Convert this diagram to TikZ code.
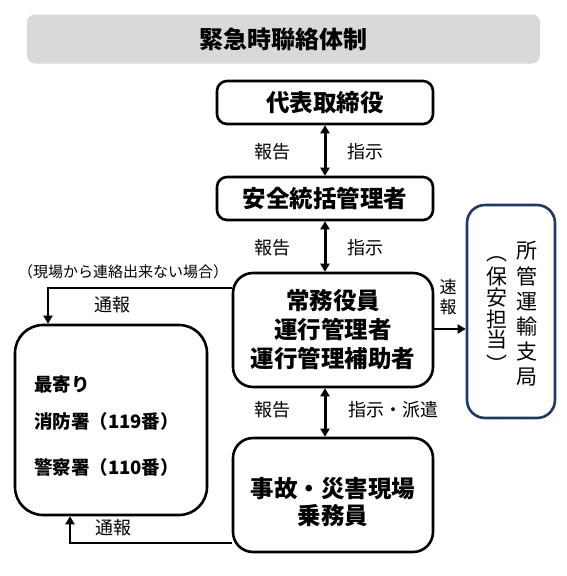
\documentclass[tikz,border=0pt]{standalone}
\usepackage{fontspec}
\setmainfont{Noto Sans CJK JP}
\usetikzlibrary{arrows.meta}
\definecolor{titlegray}{HTML}{D9D9D9}
\definecolor{navy}{HTML}{1F3864}
\begin{document}
\begin{tikzpicture}[x=1pt,y=-1pt,
  box/.style={draw=black, line width=2.6pt, fill=white, rounded corners=10pt, inner sep=0pt, align=center, font=\fontsize{23.5}{29}\selectfont\bfseries},
  lbl/.style={font=\fontsize{18}{20}\selectfont, inner sep=0pt},
  neartext/.style={anchor=west, inner sep=0pt, font=\fontsize{18.5}{20}\selectfont\bfseries},
  vch/.style={font=\fontsize{21}{21}\selectfont, inner sep=0pt},
  conn/.style={line width=2.8pt, -{Triangle[length=8pt,width=9pt]}},
  dconn/.style={line width=3pt, {Triangle[length=8pt,width=9pt]}-{Triangle[length=8pt,width=9pt]}},
]
\useasboundingbox (0,0) rectangle (567,576);

% title
\node[fill=titlegray, rounded corners=8pt, minimum width=513pt, minimum height=49pt, inner sep=0pt,
      font=\fontsize{24}{26}\selectfont\bfseries] (title) at (283.5,39) {緊急時聯絡体制};

% boxes
\node[box, minimum width=216pt, minimum height=43pt] (rep) at (325,102.5) {代表取締役};
\node[box, minimum width=216pt, minimum height=43pt] (safe) at (325,198.5) {安全統括管理者};
\node[box, rounded corners=20pt, minimum width=200pt, minimum height=114pt] (exec) at (333,330) {常務役員\\運行管理者\\運行管理補助者};
\node[box, rounded corners=20pt, minimum width=200pt, minimum height=114pt] (site) at (333,495) {};
\node[inner sep=0pt, align=center, font=\fontsize{23.5}{27}\selectfont\bfseries] (sitetext) at (333,502) {事故・災害現場\\乗務員};
\node[box, rounded corners=28pt, minimum width=192pt, minimum height=190pt] (near) at (111,420) {};
\node[neartext] (n1) at (34,384) {最寄り};
\node[neartext] (n2) at (34,421) {消防署（119番）};
\node[neartext] (n3) at (34,467) {警察署（110番）};
\node[draw=navy, line width=2.6pt, rounded corners=18pt, minimum width=88pt, minimum height=213pt, inner sep=0pt] (bureau) at (511,311.5) {};
\foreach \c [count=\i from 0] in {所,管,運,輸,支,局}
  \node[vch] (r\i) at (527,{251+25.2*\i}) {\c};
\foreach \c/\yy [count=\i] in {︵/259,保/277,安/298,担/319,当/340,︶/364}
  \node[vch] (p\i) at (497,\yy) {\c};

% connectors
\coordinate (ax) at (325,0);
\draw[dconn] (rep.south -| ax) -- (safe.north -| ax);
\draw[dconn] (safe.south -| ax) -- (exec.north -| ax);
\draw[dconn] (exec.south -| ax) -- (site.north -| ax);
\coordinate (sp) at (0,329);
\draw[conn] (exec.east |- sp) -- (bureau.west |- sp);
\coordinate (c1) at (48,288);
\draw[conn] (exec.west |- c1) -- (c1) -- (c1 |- near.north);
\coordinate (c2) at (70,543);
\draw[conn] (site.west |- c2) -- (c2) -- (c2 |- near.south);

% labels
\node[lbl] (l1a) at (272,152) {報告};
\node[lbl] (l1b) at (365,152) {指示};
\node[lbl] (l2a) at (272,248) {報告};
\node[lbl] (l2b) at (365,248) {指示};
\node[lbl] (l3a) at (272,410) {報告};
\node[lbl] (l3b) at (393,410) {指示・派遣};
\node[inner sep=0pt, font=\fontsize{15}{17}\selectfont] (note) at (123,272) {（現場から連絡出来ない場合）};
\node[lbl] (t1) at (112,305) {通報};
\node[lbl] (t2) at (113,528) {通報};
\node[inner sep=0pt, align=center, font=\fontsize{17}{20}\selectfont] (sokuho) at (448,297) {速\\報};
\end{tikzpicture}
\end{document}
